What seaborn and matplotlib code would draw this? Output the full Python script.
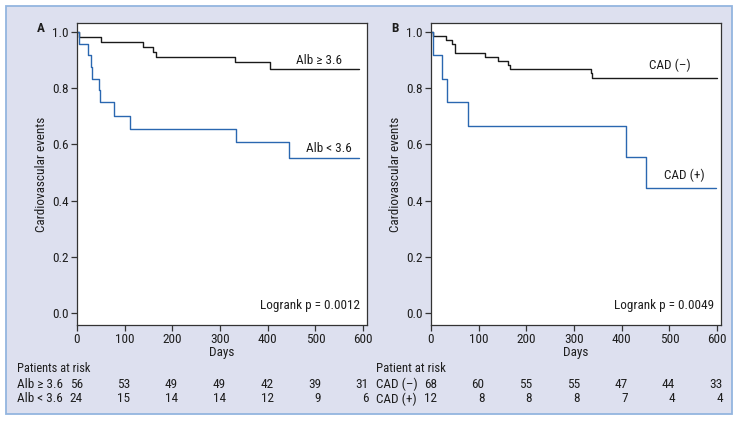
import matplotlib
matplotlib.use("Agg")
import matplotlib.pyplot as plt
import matplotlib.transforms as mtransforms
from matplotlib.patches import Rectangle
import seaborn as sns
import pandas as pd

# ---------------- data ----------------
# Panel A: albumin groups (Kaplan-Meier steps)
a_hi_days = [0, 5, 50, 138, 160, 165, 331, 405, 592]
a_hi_surv = [1.0, 0.982, 0.964, 0.946, 0.929, 0.911, 0.893, 0.869, 0.869]
a_lo_days = [0, 5, 24, 30, 32, 46, 48, 77, 111, 333, 444, 592]
a_lo_surv = [1.0, 0.958, 0.917, 0.875, 0.833, 0.792, 0.75, 0.70, 0.654, 0.607, 0.552, 0.552]

# Panel B: CAD groups
b_neg_days = [0, 5, 32, 43, 50, 113, 140, 161, 166, 335, 338, 600]
b_neg_surv = [1.0, 0.985, 0.971, 0.956, 0.926, 0.912, 0.897, 0.882, 0.868, 0.853, 0.838, 0.838]
b_pos_days = [0, 5, 24, 34, 78, 409, 450, 597]
b_pos_surv = [1.0, 0.917, 0.833, 0.75, 0.667, 0.556, 0.444, 0.444]

risk_days = [0, 100, 200, 300, 400, 500, 600]
a_hi_risk = [56, 53, 49, 49, 42, 39, 31]
a_lo_risk = [24, 15, 14, 14, 12, 9, 6]
b_neg_risk = [68, 60, 55, 55, 47, 44, 33]
b_pos_risk = [12, 8, 8, 8, 7, 4, 4]

a_labels = ["Alb \u2265 3.6", "Alb < 3.6"]
b_labels = ["CAD (\u2013)", "CAD (+)"]
a_pvalue = "Logrank p = 0.0012"
b_pvalue = "Logrank p = 0.0049"
y_ticks = [0.0, 0.2, 0.4, 0.6, 0.8, 1.0]
x_ticks = [0, 100, 200, 300, 400, 500, 600]

# ---------------- style ----------------
sns.set_theme(style="ticks")
plt.rcParams["font.family"] = ["Roboto Condensed", "DejaVu Sans"]
FS = 9.5
TXT = "#1e1e1e"
BLACK = "#1a1a1a"
BLUE = "#2a67b0"

W, H = 738, 422
fig = plt.figure(figsize=(W / 100, H / 100), dpi=100)
fig.patch.set_facecolor("white")
fig.patches.append(Rectangle((6 / W, 1 - 414 / H), (732 - 6) / W, (414 - 6) / H,
                             transform=fig.transFigure, facecolor="#dde0ef",
                             edgecolor="#93b5df", lw=1.3, zorder=-10))
renderer = fig.canvas.get_renderer()


def fit_width(t, target_px):
    """shrink a text so that its width is close to the reference's width"""
    w = t.get_window_extent(renderer=renderer).width
    if w > target_px:
        t.set_fontsize(t.get_fontsize() * target_px / w)


def px_axes(left, top, right, bottom):
    return [left / W, 1 - bottom / H, (right - left) / W, (bottom - top) / H]


def panel(rect, hi_d, hi_s, lo_d, lo_s, labels, lab_pos, pval, letter, letter_x,
          risk_title, title_w, risk_hi, risk_lo, row_label_x):
    ax = fig.add_axes(px_axes(*rect))
    ax.set_facecolor("white")
    df_hi = pd.DataFrame({"Days": hi_d, "surv": hi_s})
    df_lo = pd.DataFrame({"Days": lo_d, "surv": lo_s})
    sns.lineplot(data=df_hi, x="Days", y="surv", ax=ax, color=BLACK, lw=1.0,
                 drawstyle="steps-post", estimator=None, sort=False)
    sns.lineplot(data=df_lo, x="Days", y="surv", ax=ax, color=BLUE, lw=1.0,
                 drawstyle="steps-post", estimator=None, sort=False)
    ax.set_xlim(0, 608)
    ax.set_ylim(-0.043, 1.032)
    ax.set_xticks(x_ticks)
    ax.set_yticks(y_ticks)
    ax.set_yticklabels([f"{v:.1f}" for v in y_ticks])
    for s in ax.spines.values():
        s.set_color("#333333")
        s.set_linewidth(0.9)
    ax.tick_params(axis="both", length=4, width=0.9, color="#333333",
                   labelsize=FS, labelcolor=TXT, pad=2)
    ax.set_xlabel("Days", fontsize=FS, color=TXT)
    ax.set_ylabel("Cardiovascular events", fontsize=FS, color=TXT)
    ax.xaxis.set_label_coords(0.5, -0.07)
    ax.yaxis.set_label_coords(-0.1, 0.5)
    # curve labels
    (x1, y1), (x2, y2) = lab_pos
    ax.text(x1, y1, labels[0], ha="right", va="center", fontsize=FS, color=TXT)
    ax.text(x2, y2, labels[1], ha="right", va="center", fontsize=FS, color=TXT)
    ax.text(593, 0.025, pval, ha="right", va="center", fontsize=FS, color=TXT)
    fig.text(letter_x / W, 1 - 29 / H, letter, fontsize=FS, fontweight="bold",
             ha="center", va="center", color=TXT)
    # risk table
    tr = mtransforms.blended_transform_factory(ax.transData, fig.transFigure)
    t = fig.text(row_label_x / W, 1 - 369 / H, risk_title, ha="left", va="center",
                 fontsize=FS, color=TXT)
    fit_width(t, title_w)
    fig.text(row_label_x / W, 1 - 384 / H, labels[0], ha="left", va="center",
             fontsize=FS, color=TXT)
    fig.text(row_label_x / W, 1 - 399 / H, labels[1], ha="left", va="center",
             fontsize=FS, color=TXT)
    for d, n1, n2 in zip(risk_days, risk_hi, risk_lo):
        ax.text(d + 12, 1 - 384 / H, str(n1), transform=tr, ha="right",
                va="center", fontsize=FS, color=TXT, clip_on=False)
        ax.text(d + 12, 1 - 399 / H, str(n2), transform=tr, ha="right",
                va="center", fontsize=FS, color=TXT, clip_on=False)
    return ax


panel((77, 23, 367, 325), a_hi_days, a_hi_surv, a_lo_days, a_lo_surv,
      a_labels, [(556, 0.897), (575, 0.587)], a_pvalue, "A", 41,
      "Patients at risk", 74, a_hi_risk, a_lo_risk, 17)
panel((431, 23, 721, 325), b_neg_days, b_neg_surv, b_pos_days, b_pos_surv,
      b_labels, [(545, 0.883), (573, 0.491)], b_pvalue, "B", 395,
      "Patient at risk", 70, b_neg_risk, b_pos_risk, 376)

fig.savefig("out.png", dpi=100, facecolor=fig.get_facecolor())
